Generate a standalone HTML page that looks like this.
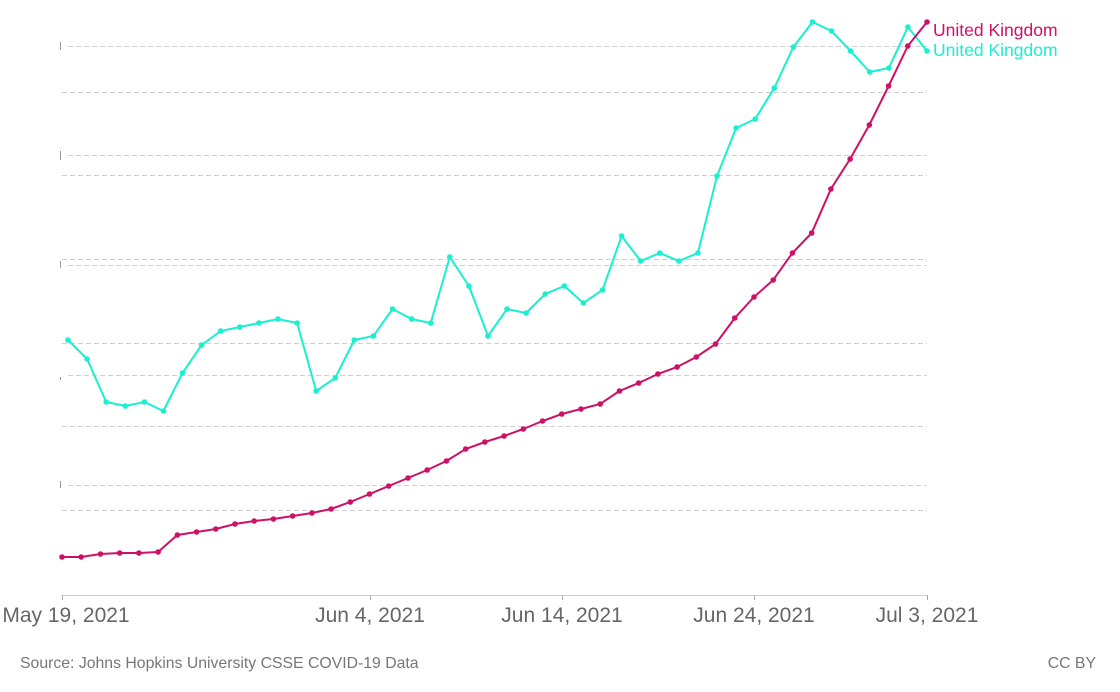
<!DOCTYPE html>
<html><head><meta charset="utf-8"><style>
body{margin:0;background:#fff;}
svg{display:block;font-family:"Liberation Sans",sans-serif;}
</style></head><body>
<svg width="1120" height="692" viewBox="0 0 1120 692">
<g stroke="#d0d0d0" stroke-width="1" stroke-dasharray="5,3">
<line x1="68" x2="927" y1="46.5" y2="46.5"/>
<line x1="68" x2="927" y1="155.5" y2="155.5"/>
<line x1="68" x2="927" y1="265.5" y2="265.5"/>
<line x1="68" x2="927" y1="375.5" y2="375.5"/>
<line x1="68" x2="927" y1="485.5" y2="485.5"/>
<line x1="62" x2="927" y1="92.5" y2="92.5"/>
<line x1="62" x2="927" y1="175.5" y2="175.5"/>
<line x1="62" x2="927" y1="259.5" y2="259.5"/>
<line x1="62" x2="927" y1="343.5" y2="343.5"/>
<line x1="62" x2="927" y1="426.5" y2="426.5"/>
<line x1="62" x2="927" y1="510.5" y2="510.5"/>
</g>
<g stroke="#999"><line x1="60.5" x2="60.5" y1="42" y2="50"/><line x1="60.5" x2="60.5" y1="151" y2="160"/><line x1="60.5" x2="60.5" y1="261" y2="268"/><line x1="60.5" x2="60.5" y1="377" y2="380"/><line x1="60.5" x2="60.5" y1="481" y2="488"/></g>
<line x1="62" x2="927" y1="595.5" y2="595.5" stroke="#ccc"/>
<g stroke="#aaa"><line x1="62.5" x2="62.5" y1="595" y2="600"/><line x1="370.5" x2="370.5" y1="595" y2="600"/><line x1="562.5" x2="562.5" y1="595" y2="600"/><line x1="754.5" x2="754.5" y1="595" y2="600"/><line x1="927.5" x2="927.5" y1="595" y2="600"/></g>
<g id="c"></g>
<g font-size="21" fill="#666" text-anchor="middle">
<text x="66" y="622">May 19, 2021</text>
<text x="370" y="622">Jun 4, 2021</text>
<text x="562" y="622">Jun 14, 2021</text>
<text x="754" y="622">Jun 24, 2021</text>
<text x="927" y="622">Jul 3, 2021</text>
</g>
<text x="933" y="36" font-size="17.5" fill="#ce1166">United Kingdom</text>
<text x="933" y="56" font-size="17.5" fill="#18f0d0">United Kingdom</text>
<text x="20" y="668" font-size="15.8" fill="#777">Source: Johns Hopkins University CSSE COVID-19 Data</text>
<text x="1096" y="668" font-size="15.8" fill="#777" text-anchor="end">CC BY</text>
</svg>
<script>
var R=[557,557,554,553,553,552,535,532,529,524,521,519,516,513,509,502,494,486,478,470,461,449,442,436,429,421,414,409,404,391,383,374,367,357,344,318,297,280,253,233,189,159,125,86,46,22];
var C=[340,359,402,406,402,411,373,345,331,327,323,319,323,391,378,340,336,309,319,323,257,286,336,309,313,294,286,303,290,236,261,253,261,253,176,128,119,88,47,22,31,51,72,68,27,51];
var g=document.getElementById('c'),ns='http://www.w3.org/2000/svg';
function draw(a,x0,col){var dx=(927-x0)/45,p=a.map(function(y,i){return (x0+i*dx).toFixed(1)+','+y}).join(' ');
var l=document.createElementNS(ns,'polyline');l.setAttribute('points',p);l.setAttribute('fill','none');l.setAttribute('stroke',col);l.setAttribute('stroke-width','2');g.appendChild(l);
a.forEach(function(y,i){var c=document.createElementNS(ns,'circle');c.setAttribute('cx',x0+i*dx);c.setAttribute('cy',y);c.setAttribute('r','2.8');c.setAttribute('fill',col);g.appendChild(c);});}
draw(C,68,'#18f0d0');draw(R,62,'#ce1166');
</script>
</body></html>
